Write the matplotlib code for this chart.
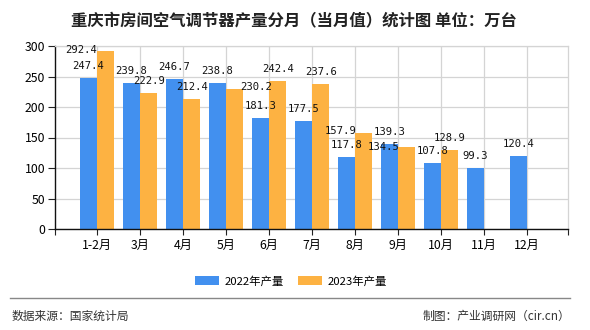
import matplotlib
matplotlib.use("Agg")
import matplotlib.pyplot as plt
import numpy as np
from matplotlib.patches import Patch

plt.rcParams['font.family'] = ['Noto Sans CJK SC', 'DejaVu Sans']

categories = ["1-2月", "3月", "4月", "5月", "6月", "7月", "8月", "9月", "10月", "11月", "12月"]
values_2022 = [247.4, 239.8, 246.7, 238.8, 181.3, 177.5, 117.8, 139.3, 107.8, 99.3, 120.4]
values_2023 = [292.4, 222.9, 212.4, 230.2, 242.4, 237.6, 157.9, 134.5, 128.9, None, None]
series_names = ["2022年产量", "2023年产量"]
y_ticks = [0, 50, 100, 150, 200, 250, 300]

# label offsets in pixels (dx, dy) for labels shifted to avoid collisions
offsets_2022 = {}
offsets_2023 = {0: (-24, 1), 3: (21.5, 1.3), 6: (-23, 1.6), 7: (-22.7, 0.3)}

blue = '#4290ef'
orange = '#fdb242'
grid_c = '#d4d4d4'

W, H = 590, 330
fig = plt.figure(figsize=(W / 100, H / 100), dpi=100)
ax = fig.add_axes([55 / W, 1 - 229 / H, (568 - 55) / W, (229 - 46) / H])

x = np.arange(len(categories))
bw = 0.4
v23 = [np.nan if v is None else v for v in values_2023]
ax.bar(x - bw / 2, values_2022, width=bw, color=blue, zorder=2)
ax.bar(x + bw / 2, v23, width=bw, color=orange, zorder=2)

px2pt = 72 / 100
def label(xc, v, off):
    dx, dy = off
    ax.annotate(f"{v:.1f}", (xc, v), xytext=(dx * px2pt, (12 + dy - (0 if off == (0, 0) else 12)) * px2pt),
                textcoords='offset points', ha='center', va='center',
                fontsize=7.6, family='DejaVu Sans Mono', color='#111111', zorder=5)

for i, v in enumerate(values_2022):
    label(i - bw / 2, v, offsets_2022.get(i, (0, 0)))
for i, v in enumerate(values_2023):
    if v is None:
        continue
    label(i + bw / 2, v, offsets_2023.get(i, (0, 0)))

ax.set_xlim(-0.977, 10.95)
ax.set_ylim(0, 300)
ax.set_yticks(y_ticks)
ax.set_xticks(x)
ax.set_xticklabels(categories)
ax.set_xticks([-0.977, 10.95], minor=True)
ax.tick_params(axis='x', which='both', length=4, width=0.8, color='#222222', labelsize=8.8, pad=3)
ax.tick_params(axis='y', length=5, width=0.8, color='#222222', labelsize=8.8, pad=2)
ax.grid(True, color=grid_c, linewidth=0.9, zorder=0)
ax.set_axisbelow(True)
for s in ['left', 'bottom']:
    ax.spines[s].set_color('#111111')
    ax.spines[s].set_linewidth(1.0)
for s in ['top', 'right']:
    ax.spines[s].set_color(grid_c)
    ax.spines[s].set_linewidth(0.9)

fig.text(294 / W, 1 - 20.5 / H, "重庆市房间空气调节器产量分月（当月值）统计图 单位：万台",
         ha='center', va='center', fontsize=11.8, fontweight='bold', color='#222222')

handles = [Patch(facecolor=blue, edgecolor='none'), Patch(facecolor=orange, edgecolor='none')]
fig.legend(handles, series_names, loc='center', bbox_to_anchor=(291 / W, 1 - 281 / H),
           ncol=2, frameon=False, fontsize=8.2, handlelength=2.1, handleheight=0.9,
           handletextpad=0.5, columnspacing=1.3)

fig.add_artist(plt.Line2D([10 / W, 570 / W], [1 - 298.3 / H, 1 - 298.3 / H],
                          color='#888888', linewidth=1.0, transform=fig.transFigure))
fig.text(12 / W, 1 - 316.7 / H, "数据来源：国家统计局", ha='left', va='center',
         fontsize=8.5, color='#333333')
fig.text(570 / W, 1 - 316.7 / H, "制图：产业调研网（cir.cn）", ha='right', va='center',
         fontsize=8.5, color='#333333')

fig.savefig("out.png", dpi=100)
